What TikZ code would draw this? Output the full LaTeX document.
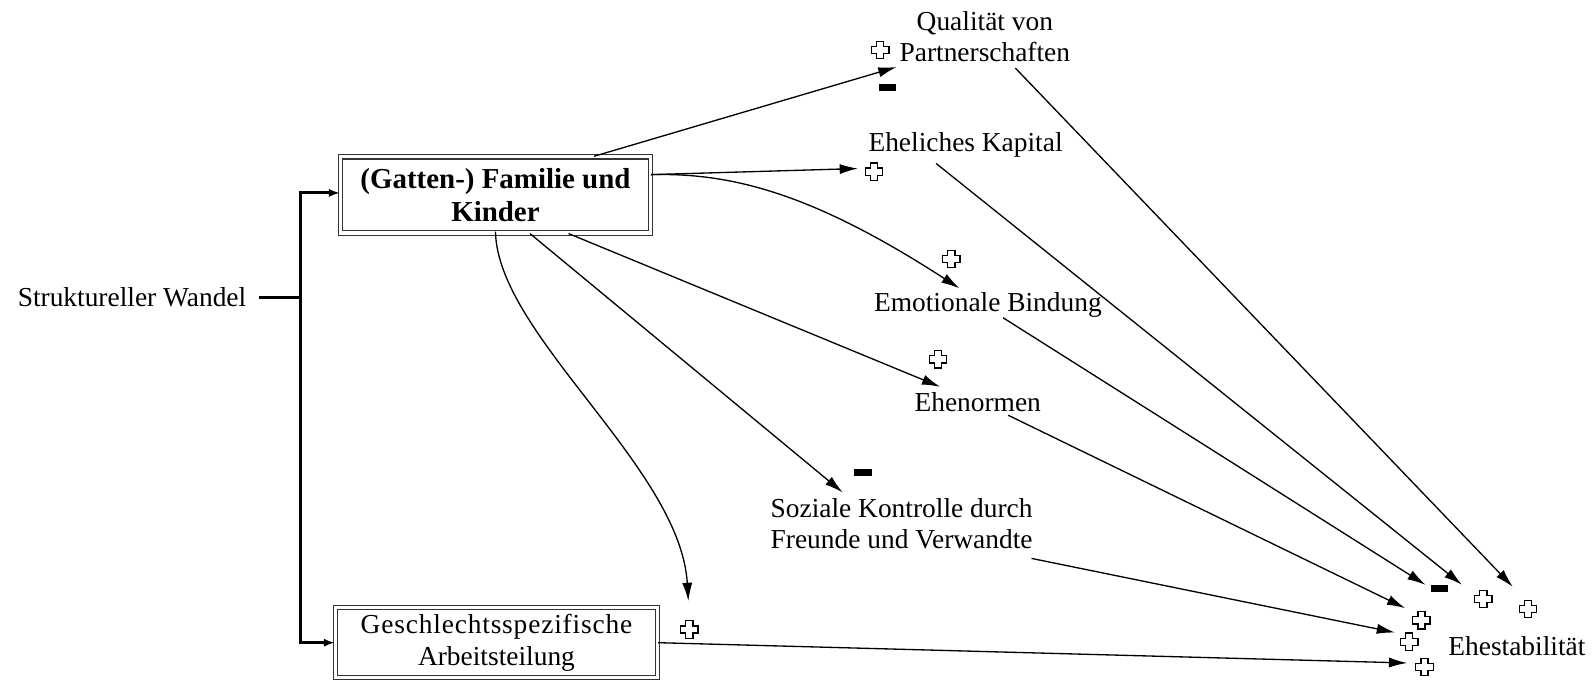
\documentclass[tikz,border=0pt]{standalone}
\usepackage{fontspec}
\setmainfont{Liberation Serif}
\usetikzlibrary{arrows.meta}
\begin{document}
\begin{tikzpicture}[x=1pt,y=-1pt,
  lbl/.style={font=\fontsize{27}{31}\selectfont, align=center, inner sep=0pt},
  dbox/.style={lbl, draw=black!80, double, double distance=3pt, line width=1.1pt, inner sep=0pt},
  link/.style={line width=1.3pt, -{Latex[length=18pt,width=10pt]}},
  feed/.style={line width=3pt, -{Latex[length=11pt,width=8pt]}},
  pos/.pic={\draw[line width=1.2pt, fill=white]
      (-3.5,-8.5) -- (3.5,-8.5) -- (3.5,-3.5) -- (8.5,-3.5) -- (8.5,3.5) -- (3.5,3.5)
      -- (3.5,8.5) -- (-3.5,8.5) -- (-3.5,3.5) -- (-8.5,3.5) -- (-8.5,-3.5) -- (-3.5,-3.5) -- cycle;},
  neg/.pic={\fill (-8.5,-3.5) rectangle (8.5,3.5);}
]
\useasboundingbox (0,0) rectangle (1568,674);

% driver and the two institutional boxes
\node[lbl] (sw) at (130,293) {Struktureller Wandel};
\node[dbox, minimum width=305pt, minimum height=75pt, font=\fontsize{28.5}{33}\selectfont\bfseries]
  (gf) at (488,192) {(Gatten-) Familie und\\Kinder};
\node[dbox, minimum width=317pt, minimum height=69pt] (ga) at (489,633)
  {{\addfontfeatures{LetterSpace=3}Geschlechtsspezifische}\\Arbeitsteilung};

% intermediate factors
\node[lbl] (qp) at (970,36) {Qualität von\\Partnerschaften};
\node[lbl] (ek) at (951,143) {Eheliches Kapital};
\node[lbl] (eb) at (973,300) {Emotionale Bindung};
\node[lbl] (en) at (963,396) {Ehenormen};
\node[lbl] (sk) at (888,516) {Soziale Kontrolle durch\\Freunde und Verwandte};
\node[lbl] (es) at (1494,636) {Ehestabilität};

% branching feed from structural change
\coordinate (fork) at (296,293);
\draw[line width=3pt] ([shift={(12,0)}]sw.east) -- (fork);
\draw[feed] (fork) |- (gf.west |- 0,190);
\draw[feed] (fork) |- (ga.west |- 0,633);

% effects of family and children
\draw[link] ([shift={(97,0)}]gf.north) -- ([shift={(-87,30)}]qp.center);
\draw[link] ([shift={(0,-20)}]gf.east) -- ([shift={(-106,23)}]ek.center);
\draw[link] ([shift={(0,-20)}]gf.east) .. controls (720,170) and (800,190) .. ([shift={(-28,-16)}]eb.center);
\draw[link] ([shift={(72,0)}]gf.south) -- ([shift={(-37,-15)}]en.center);
\draw[link] ([shift={(34,0)}]gf.south) -- ([shift={(-58,-31)}]sk.center);
\draw[link] ([shift={(0,-2)}]gf.south) .. controls (490,330) and (670,460) .. ([shift={(189,-41)}]ga.center);
\draw[link] (ga.east) -- ([shift={(-108,17)}]es.center);

% effects on marital stability
\draw[link] ([shift={(30,31)}]qp.center) -- ([shift={(-4,-58)}]es.center);
\draw[link] ([shift={(-29,18)}]ek.center) -- ([shift={(-54,-60)}]es.center);
\draw[link] ([shift={(15,13)}]eb.center) -- ([shift={(-90,-60)}]es.center);
\draw[link] ([shift={(30,13)}]en.center) -- ([shift={(-110,-37)}]es.center);
\draw[link] ([shift={(128,34)}]sk.center) -- ([shift={(-120,-13)}]es.center);

% polarity signs
\pic at (867,49) {pos};
\pic at (874,86) {neg};
\pic at (861,169) {pos};
\pic at (937,255) {pos};
\pic at (924,354) {pos};
\pic at (850,465) {neg};
\pic at (679,620) {pos};
\pic at (1418,580) {neg};
\pic at (1461,590) {pos};
\pic at (1505,600) {pos};
\pic at (1400,611) {pos};
\pic at (1388,632) {pos};
\pic at (1403,657) {pos};
\end{tikzpicture}
\end{document}
